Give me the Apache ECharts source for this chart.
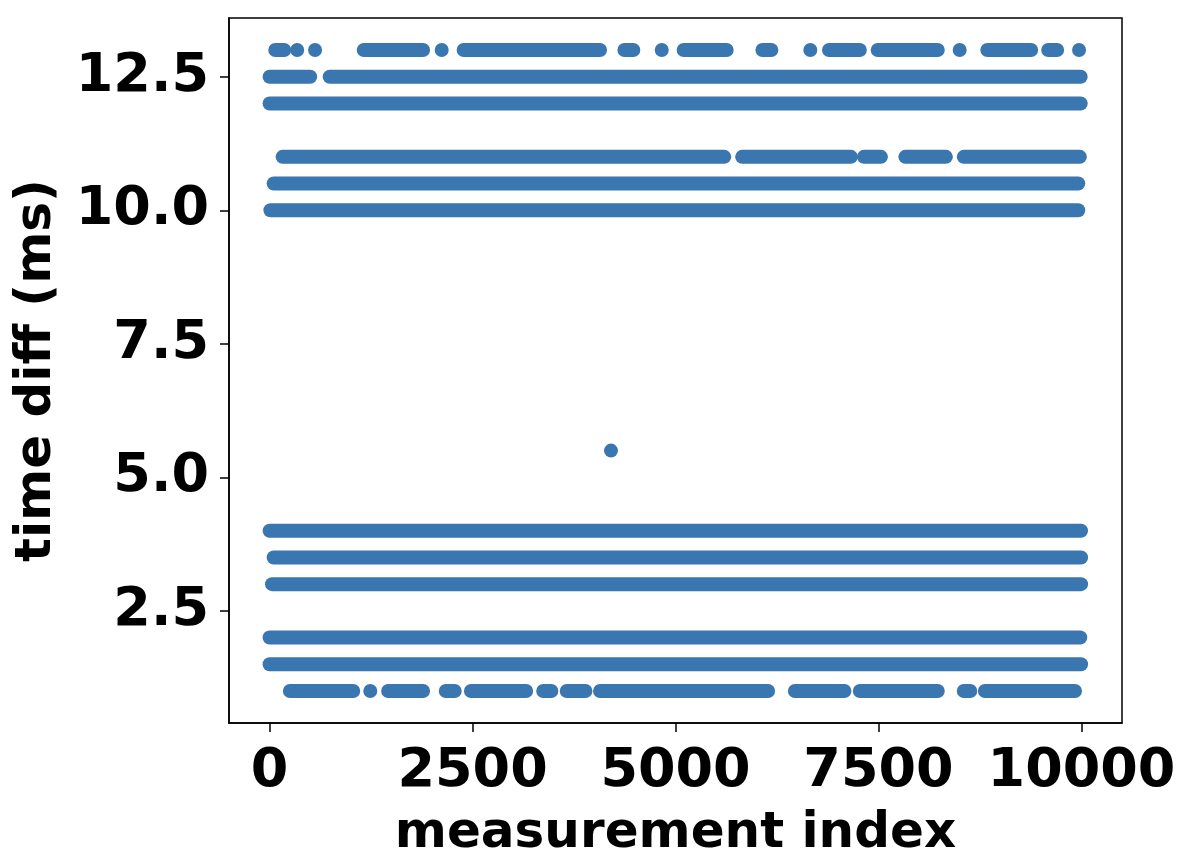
<!DOCTYPE html>
<html>
<head>
<meta charset="utf-8">
<script src="https://cdn.jsdelivr.net/npm/echarts@6/dist/echarts.min.js"></script>
<style>
  html, body { margin: 0; padding: 0; background: #fff; }
  #chart { width: 1186px; height: 864px; }
</style>
</head>
<body>
<div id="chart"></div>
<script>
// each row: runs of consecutive dots as [first x, last x] (measurement index)
const row1_0 = [[250, 1030], [1240, 1240], [1460, 1890], [2170, 2280], [2480, 3160], [3370, 3470],
  [3660, 3890], [4070, 6140], [6470, 7080], [7270, 8230], [8550, 8630], [8810, 9920]]
const row1_5 = [[0, 9995]]
const row2_0 = [[0, 9985]]
const row3_0 = [[30, 9995]]
const row3_5 = [[50, 9995]]
const row4_0 = [[0, 9995]]
const row10_0 = [[10, 9960]]
const row10_5 = [[50, 9960]]
const row11_0 = [[160, 5600], [5820, 7160], [7320, 7530], [7830, 8330], [8550, 9980]]
const row12_0 = [[0, 9990]]
const row12_5 = [[0, 500], [740, 9990]]
const row13_0 = [[70, 180], [340, 340], [560, 560], [1160, 1890], [2120, 2120], [2390, 4070],
  [4370, 4480], [4830, 4830], [5100, 5630], [6070, 6180], [6660, 6660], [6890, 7270],
  [7490, 8230], [8500, 8500], [8840, 9380], [9590, 9700], [9970, 9970]]
const outliers = [[4205, 5.5]]

const rows = [
  [1.0, row1_0], [1.5, row1_5], [2.0, row2_0], [3.0, row3_0], [3.5, row3_5], [4.0, row4_0],
  [10.0, row10_0], [10.5, row10_5], [11.0, row11_0], [12.0, row12_0], [12.5, row12_5], [13.0, row13_0]
]
const xTicks = [0, 2500, 5000, 7500, 10000]
const yTicks = [2.5, 5.0, 7.5, 10.0, 12.5]

const color = '#3a76af'
const dot = 14
const font = 'DejaVu Sans'

let runData = []
rows.forEach(function (r) {
  r[1].forEach(function (seg) {
    runData.push([seg[0], seg[1], r[0]])
  })
})
outliers.forEach(function (p) { runData.push([p[0], p[0], p[1]]) })

const chart = echarts.init(document.getElementById('chart'))
chart.setOption({
  animation: false,
  backgroundColor: '#fff',
  grid: {
    left: 229, top: 18, width: 893, height: 706,
    show: true, borderColor: '#000', borderWidth: 1.5, backgroundColor: 'transparent'
  },
  xAxis: {
    type: 'value',
    min: -500, max: 10499,
    name: 'measurement index',
    nameLocation: 'middle',
    nameGap: 86,
    nameTextStyle: { fontFamily: font, fontWeight: 'bold', fontSize: 50, color: '#000' },
    axisLine: { show: true, onZero: false, lineStyle: { color: '#000', width: 1.5 } },
    axisTick: { show: true, length: 9, lineStyle: { color: '#000', width: 1.5 }, customValues: xTicks },
    axisLabel: {
      fontFamily: font, fontWeight: 'bold', fontSize: 54, color: '#000', margin: 22,
      customValues: xTicks,
      formatter: function (v) { return String(v) }
    },
    splitLine: { show: false }
  },
  yAxis: {
    type: 'value',
    min: 0.4, max: 13.6,
    name: 'time diff (ms)',
    nameLocation: 'middle',
    nameGap: 167,
    nameTextStyle: { fontFamily: font, fontWeight: 'bold', fontSize: 50, color: '#000' },
    axisLine: { show: true, onZero: false, lineStyle: { color: '#000', width: 1.5 } },
    axisTick: { show: true, length: 9, lineStyle: { color: '#000', width: 1.5 }, customValues: yTicks },
    axisLabel: {
      fontFamily: font, fontWeight: 'bold', fontSize: 54, color: '#000', margin: 20,
      customValues: yTicks,
      formatter: function (v) { return v.toFixed(1) }
    },
    splitLine: { show: false }
  },
  series: [{
    type: 'custom',
    clip: true,
    encode: { x: [0, 1], y: 2 },
    data: runData,
    renderItem: function (params, api) {
      const a = api.coord([api.value(0), api.value(2)])
      const b = api.coord([api.value(1), api.value(2)])
      const r = dot / 2
      return {
        type: 'rect',
        shape: { x: a[0] - r, y: a[1] - r, width: b[0] - a[0] + dot, height: dot, r: r },
        style: { fill: color }
      }
    }
  }]
})
</script>
</body>
</html>
